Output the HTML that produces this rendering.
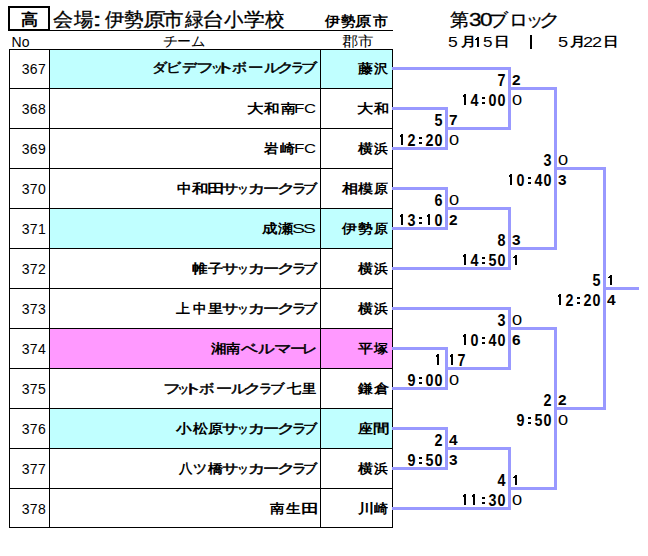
<!DOCTYPE html><html><head><meta charset="utf-8"><style>
*{margin:0;padding:0;box-sizing:border-box}
html,body{width:648px;height:556px;background:#fff;overflow:hidden}
body{position:relative;font-family:"Liberation Sans",sans-serif;color:#000}
.a{position:absolute;white-space:nowrap;line-height:20px}
.g{position:absolute;white-space:nowrap;line-height:20px;transform-origin:0 0}
.k{position:absolute;background:#000}
.l{position:absolute;background:#9999FF}
.b{font-weight:bold}
.t{position:absolute;white-space:nowrap;font-size:14px;line-height:20px}
.n{position:absolute;white-space:nowrap;font-weight:bold;font-size:15.9px;line-height:16px}
.r{position:absolute;white-space:nowrap;font-size:14px;line-height:20px;transform:scaleX(1.3);transform-origin:0 0}
.rb{font-weight:bold;transform:scaleX(1.1)}
.n i{font-style:normal;display:inline-block;width:9px;height:16px;vertical-align:top;text-align:center;transform:scaleX(0.9)}
.n i.o,.n i.c{position:relative;transform:none}
.n i.c:before,.n i.c:after{content:'';position:absolute;left:3px;top:4px;width:3px;height:2px;background:#000}
.n i.c:after{top:9px}
.n i.o:before{content:'';position:absolute;left:3px;top:1px;width:2px;height:11px;background:#000}
.n i.o:after{content:'';position:absolute;left:2px;top:2px;width:1px;height:2px;background:#000}
</style></head><body>

<div class="a" style="left:50px;top:50px;width:342px;height:38px;background:#C0FFFF"></div>
<div class="a" style="left:50px;top:209px;width:342px;height:39px;background:#C0FFFF"></div>
<div class="a" style="left:50px;top:329px;width:342px;height:39px;background:#FF99FF"></div>
<div class="a" style="left:50px;top:409px;width:342px;height:39px;background:#C0FFFF"></div>
<div class="k" style="left:9px;top:49px;width:384px;height:1px"></div>
<div class="k" style="left:9px;top:88px;width:384px;height:1px"></div>
<div class="k" style="left:9px;top:128px;width:384px;height:1px"></div>
<div class="k" style="left:9px;top:168px;width:384px;height:1px"></div>
<div class="k" style="left:9px;top:208px;width:384px;height:1px"></div>
<div class="k" style="left:9px;top:248px;width:384px;height:1px"></div>
<div class="k" style="left:9px;top:288px;width:384px;height:1px"></div>
<div class="k" style="left:9px;top:328px;width:384px;height:1px"></div>
<div class="k" style="left:9px;top:368px;width:384px;height:1px"></div>
<div class="k" style="left:9px;top:408px;width:384px;height:1px"></div>
<div class="k" style="left:9px;top:448px;width:384px;height:1px"></div>
<div class="k" style="left:9px;top:488px;width:384px;height:1px"></div>
<div class="k" style="left:9px;top:527px;width:384px;height:1px"></div>
<div class="k" style="left:9px;top:49px;width:1px;height:479px"></div>
<div class="k" style="left:49px;top:49px;width:1px;height:479px"></div>
<div class="k" style="left:320px;top:49px;width:1px;height:479px"></div>
<div class="k" style="left:392px;top:49px;width:1px;height:479px"></div>
<div class="a" style="left:8px;top:6px;width:42px;height:25px;border:2px solid #000"></div>
<div class="k" style="left:50px;top:30px;width:343px;height:1px"></div>
<div class="g" style="left:21.00px;top:10.00px;font-size:16px;font-weight:bold;transform:scale(1.067,1.000)">高</div>
<div class="g" style="left:52.95px;top:10.00px;font-size:18.5px;-webkit-text-stroke:0.3px #000;transform:scale(1.053,1.000)">会</div>
<div class="g" style="left:74.25px;top:10.00px;font-size:18.5px;-webkit-text-stroke:0.3px #000;transform:scale(1.028,1.000)">場</div>
<div class="g" style="left:92.00px;top:10.00px;font-size:18.5px;-webkit-text-stroke:0.3px #000;transform:scale(2.000,1.000)">:</div>
<div class="g" style="left:105.40px;top:10.00px;font-size:18.5px;-webkit-text-stroke:0.3px #000;transform:scale(1.017,1.000)">伊</div>
<div class="g" style="left:124.16px;top:10.00px;font-size:18.5px;-webkit-text-stroke:0.3px #000;transform:scale(1.041,1.000)">勢</div>
<div class="g" style="left:143.11px;top:10.00px;font-size:18.5px;-webkit-text-stroke:0.3px #000;transform:scale(1.188,1.000)">原</div>
<div class="g" style="left:163.12px;top:10.00px;font-size:18.5px;-webkit-text-stroke:0.3px #000;transform:scale(1.076,1.000)">市</div>
<div class="g" style="left:185.00px;top:10.00px;font-size:18.5px;-webkit-text-stroke:0.3px #000;transform:scale(0.983,1.000)">緑</div>
<div class="g" style="left:202.04px;top:10.00px;font-size:18.5px;-webkit-text-stroke:0.3px #000;transform:scale(1.180,1.000)">台</div>
<div class="g" style="left:223.58px;top:10.00px;font-size:18.5px;-webkit-text-stroke:0.3px #000;transform:scale(1.022,1.000)">小</div>
<div class="g" style="left:244.21px;top:10.00px;font-size:18.5px;-webkit-text-stroke:0.3px #000;transform:scale(1.094,1.000)">学</div>
<div class="g" style="left:265.00px;top:10.00px;font-size:18.5px;-webkit-text-stroke:0.3px #000;transform:scale(1.028,1.000)">校</div>
<div class="g" style="left:325.10px;top:12.00px;font-size:13.5px;font-weight:bold;transform:scale(1.086,1.000)">伊</div>
<div class="g" style="left:340.90px;top:12.00px;font-size:13.5px;font-weight:bold;transform:scale(1.043,1.000)">勢</div>
<div class="g" style="left:355.43px;top:12.00px;font-size:13.5px;font-weight:bold;transform:scale(1.169,1.000)">原</div>
<div class="g" style="left:372.90px;top:12.00px;font-size:13.5px;font-weight:bold;transform:scale(1.064,1.000)">市</div>
<div class="g" style="left:162.72px;top:32.00px;font-size:13.5px;transform:scale(1.082,1.000)">チ</div>
<div class="g" style="left:177.11px;top:32.00px;font-size:13.5px;transform:scale(0.992,1.000)">ー</div>
<div class="g" style="left:190.97px;top:32.00px;font-size:13.5px;transform:scale(1.025,1.000)">ム</div>
<div class="g" style="left:341.63px;top:32.00px;font-size:13.5px;transform:scale(1.167,1.000)">郡</div>
<div class="g" style="left:357.59px;top:32.00px;font-size:13.5px;transform:scale(1.108,1.000)">市</div>
<div class="g" style="left:450.25px;top:10.00px;font-size:18px;-webkit-text-stroke:0.3px #000;transform:scale(1.050,1.000)">第</div>
<div class="g" style="left:468.75px;top:10.00px;font-size:18px;-webkit-text-stroke:0.3px #000;transform:scale(1.250,1.000)">3</div>
<div class="g" style="left:479.75px;top:10.00px;font-size:18px;-webkit-text-stroke:0.3px #000;transform:scale(1.250,1.000)">0</div>
<div class="g" style="left:488.80px;top:10.00px;font-size:18px;-webkit-text-stroke:0.3px #000;transform:scale(1.050,1.000)">ブ</div>
<div class="g" style="left:508.88px;top:10.00px;font-size:18px;-webkit-text-stroke:0.3px #000;transform:scale(1.042,1.000)">ロ</div>
<div class="g" style="left:525.80px;top:10.00px;font-size:18px;-webkit-text-stroke:0.3px #000;transform:scale(0.967,1.000)">ッ</div>
<div class="g" style="left:539.25px;top:10.00px;font-size:18px;-webkit-text-stroke:0.3px #000;transform:scale(1.183,1.000)">ク</div>
<div class="g" style="left:448.35px;top:31.44px;font-size:13px;transform:scale(1.350,1.111)">5</div>
<div class="g" style="left:461.00px;top:32.00px;font-size:13px;font-weight:bold;transform:scale(1.170,1.000)">月</div>
<div class="g" style="left:482.68px;top:31.44px;font-size:13px;transform:scale(1.317,1.111)">5</div>
<div class="g" style="left:493.50px;top:32.00px;font-size:13px;font-weight:bold;transform:scale(1.200,1.000)">日</div>
<div class="g" style="left:557.50px;top:31.44px;font-size:13px;transform:scale(1.400,1.111)">5</div>
<div class="g" style="left:570.30px;top:32.00px;font-size:13px;font-weight:bold;transform:scale(1.190,1.000)">月</div>
<div class="g" style="left:582.70px;top:31.44px;font-size:13px;transform:scale(1.400,1.111)">2</div>
<div class="g" style="left:591.60px;top:31.44px;font-size:13px;transform:scale(1.400,1.111)">2</div>
<div class="g" style="left:602.50px;top:32.00px;font-size:13px;font-weight:bold;transform:scale(1.200,1.000)">日</div>
<div class="g" style="left:151.69px;top:58.00px;font-size:13px;-webkit-text-stroke:0.5px #000;transform:scale(1.155,1.000)">ダ</div>
<div class="g" style="left:166.29px;top:58.00px;font-size:13px;-webkit-text-stroke:0.5px #000;transform:scale(1.155,1.000)">ビ</div>
<div class="g" style="left:182.07px;top:58.00px;font-size:13px;-webkit-text-stroke:0.5px #000;transform:scale(1.133,1.000)">デ</div>
<div class="g" style="left:195.67px;top:58.00px;font-size:13px;-webkit-text-stroke:0.5px #000;transform:scale(1.367,1.000)">フ</div>
<div class="g" style="left:210.56px;top:58.00px;font-size:13px;-webkit-text-stroke:0.5px #000;transform:scale(0.922,1.000)">ッ</div>
<div class="g" style="left:214.00px;top:58.00px;font-size:13px;-webkit-text-stroke:0.5px #000;transform:scale(1.660,1.000)">ト</div>
<div class="g" style="left:231.85px;top:58.00px;font-size:13px;-webkit-text-stroke:0.5px #000;transform:scale(1.145,1.000)">ボ</div>
<div class="g" style="left:248.02px;top:58.00px;font-size:13px;-webkit-text-stroke:0.5px #000;transform:scale(1.182,1.000)">ー</div>
<div class="g" style="left:263.59px;top:58.00px;font-size:13px;-webkit-text-stroke:0.5px #000;transform:scale(1.209,1.000)">ル</div>
<div class="g" style="left:276.52px;top:58.00px;font-size:13px;-webkit-text-stroke:0.5px #000;transform:scale(1.289,1.000)">ク</div>
<div class="g" style="left:291.37px;top:58.00px;font-size:13px;-webkit-text-stroke:0.5px #000;transform:scale(1.030,1.000)">ラ</div>
<div class="g" style="left:301.06px;top:58.00px;font-size:13px;-webkit-text-stroke:0.5px #000;transform:scale(1.236,1.000)">ブ</div>
<div class="g" style="left:358.00px;top:59.00px;font-size:13px;font-weight:bold;transform:scale(1.154,1.000)">藤</div>
<div class="g" style="left:374.00px;top:59.00px;font-size:13px;font-weight:bold;transform:scale(1.077,1.000)">沢</div>
<div class="g" style="left:246.72px;top:99.00px;font-size:13px;font-weight:bold;transform:scale(1.275,1.000)">大</div>
<div class="g" style="left:264.30px;top:99.00px;font-size:13px;font-weight:bold;transform:scale(1.200,1.000)">和</div>
<div class="g" style="left:280.50px;top:99.00px;font-size:13px;font-weight:bold;transform:scale(1.131,1.000)">南</div>
<div class="g" style="left:293.89px;top:99.00px;font-size:13px;transform:scale(1.314,1.000)">F</div>
<div class="g" style="left:304.41px;top:99.00px;font-size:13px;transform:scale(1.288,1.000)">C</div>
<div class="g" style="left:356.75px;top:99.00px;font-size:13px;font-weight:bold;transform:scale(1.250,1.000)">大</div>
<div class="g" style="left:374.00px;top:99.00px;font-size:13px;font-weight:bold;transform:scale(1.167,1.000)">和</div>
<div class="g" style="left:264.30px;top:139.00px;font-size:13px;font-weight:bold;transform:scale(1.108,1.000)">岩</div>
<div class="g" style="left:280.30px;top:139.00px;font-size:13px;font-weight:bold;transform:scale(1.146,1.000)">崎</div>
<div class="g" style="left:293.89px;top:139.00px;font-size:13px;transform:scale(1.314,1.000)">F</div>
<div class="g" style="left:304.41px;top:139.00px;font-size:13px;transform:scale(1.288,1.000)">C</div>
<div class="g" style="left:358.00px;top:139.00px;font-size:13px;font-weight:bold;transform:scale(1.154,1.000)">横</div>
<div class="g" style="left:374.00px;top:139.00px;font-size:13px;font-weight:bold;transform:scale(1.077,1.000)">浜</div>
<div class="g" style="left:177.00px;top:179.00px;font-size:13px;font-weight:bold;transform:scale(1.108,1.000)">中</div>
<div class="g" style="left:191.60px;top:179.00px;font-size:13px;font-weight:bold;transform:scale(1.267,1.000)">和</div>
<div class="g" style="left:206.70px;top:179.00px;font-size:13px;font-weight:bold;transform:scale(1.400,1.000)">田</div>
<div class="g" style="left:222.24px;top:179.00px;font-size:13px;-webkit-text-stroke:0.5px #000;transform:scale(1.264,1.000)">サ</div>
<div class="g" style="left:237.40px;top:179.00px;font-size:13px;-webkit-text-stroke:0.5px #000;transform:scale(0.900,1.000)">ッ</div>
<div class="g" style="left:247.79px;top:179.00px;font-size:13px;-webkit-text-stroke:0.5px #000;transform:scale(1.310,1.000)">カ</div>
<div class="g" style="left:262.56px;top:179.00px;font-size:13px;-webkit-text-stroke:0.5px #000;transform:scale(1.236,1.000)">ー</div>
<div class="g" style="left:276.72px;top:179.00px;font-size:13px;-webkit-text-stroke:0.5px #000;transform:scale(1.389,1.000)">ク</div>
<div class="g" style="left:292.16px;top:179.00px;font-size:13px;-webkit-text-stroke:0.5px #000;transform:scale(1.140,1.000)">ラ</div>
<div class="g" style="left:302.91px;top:179.00px;font-size:13px;-webkit-text-stroke:0.5px #000;transform:scale(1.091,1.000)">ブ</div>
<div class="g" style="left:342.00px;top:179.00px;font-size:13px;font-weight:bold;transform:scale(1.250,1.000)">相</div>
<div class="g" style="left:358.00px;top:179.00px;font-size:13px;font-weight:bold;transform:scale(1.154,1.000)">模</div>
<div class="g" style="left:374.00px;top:179.00px;font-size:13px;font-weight:bold;transform:scale(1.077,1.000)">原</div>
<div class="g" style="left:262.00px;top:219.00px;font-size:13px;font-weight:bold;transform:scale(1.192,1.000)">成</div>
<div class="g" style="left:277.70px;top:219.00px;font-size:13px;font-weight:bold;transform:scale(1.177,1.000)">瀬</div>
<div class="g" style="left:291.80px;top:219.00px;font-size:13px;transform:scale(1.500,1.000)">S</div>
<div class="g" style="left:303.01px;top:219.00px;font-size:13px;transform:scale(1.486,1.000)">S</div>
<div class="g" style="left:342.00px;top:219.00px;font-size:13px;font-weight:bold;transform:scale(1.154,1.000)">伊</div>
<div class="g" style="left:358.00px;top:219.00px;font-size:13px;font-weight:bold;transform:scale(1.154,1.000)">勢</div>
<div class="g" style="left:374.00px;top:219.00px;font-size:13px;font-weight:bold;transform:scale(1.077,1.000)">原</div>
<div class="g" style="left:192.00px;top:259.00px;font-size:13px;font-weight:bold;transform:scale(1.192,1.000)">帷</div>
<div class="g" style="left:208.10px;top:259.00px;font-size:13px;font-weight:bold;transform:scale(1.162,1.000)">子</div>
<div class="g" style="left:222.24px;top:259.00px;font-size:13px;-webkit-text-stroke:0.5px #000;transform:scale(1.264,1.000)">サ</div>
<div class="g" style="left:237.40px;top:259.00px;font-size:13px;-webkit-text-stroke:0.5px #000;transform:scale(0.900,1.000)">ッ</div>
<div class="g" style="left:247.79px;top:259.00px;font-size:13px;-webkit-text-stroke:0.5px #000;transform:scale(1.310,1.000)">カ</div>
<div class="g" style="left:262.56px;top:259.00px;font-size:13px;-webkit-text-stroke:0.5px #000;transform:scale(1.236,1.000)">ー</div>
<div class="g" style="left:276.72px;top:259.00px;font-size:13px;-webkit-text-stroke:0.5px #000;transform:scale(1.389,1.000)">ク</div>
<div class="g" style="left:292.16px;top:259.00px;font-size:13px;-webkit-text-stroke:0.5px #000;transform:scale(1.140,1.000)">ラ</div>
<div class="g" style="left:302.91px;top:259.00px;font-size:13px;-webkit-text-stroke:0.5px #000;transform:scale(1.091,1.000)">ブ</div>
<div class="g" style="left:358.00px;top:259.00px;font-size:13px;font-weight:bold;transform:scale(1.154,1.000)">横</div>
<div class="g" style="left:374.00px;top:259.00px;font-size:13px;font-weight:bold;transform:scale(1.077,1.000)">浜</div>
<div class="g" style="left:176.30px;top:299.00px;font-size:13px;font-weight:bold;transform:scale(1.077,1.000)">上</div>
<div class="g" style="left:193.00px;top:299.00px;font-size:13px;font-weight:bold;transform:scale(1.033,1.000)">中</div>
<div class="g" style="left:208.10px;top:299.00px;font-size:13px;font-weight:bold;transform:scale(1.162,1.000)">里</div>
<div class="g" style="left:222.24px;top:299.00px;font-size:13px;-webkit-text-stroke:0.5px #000;transform:scale(1.264,1.000)">サ</div>
<div class="g" style="left:237.40px;top:299.00px;font-size:13px;-webkit-text-stroke:0.5px #000;transform:scale(0.900,1.000)">ッ</div>
<div class="g" style="left:247.79px;top:299.00px;font-size:13px;-webkit-text-stroke:0.5px #000;transform:scale(1.310,1.000)">カ</div>
<div class="g" style="left:262.56px;top:299.00px;font-size:13px;-webkit-text-stroke:0.5px #000;transform:scale(1.236,1.000)">ー</div>
<div class="g" style="left:276.72px;top:299.00px;font-size:13px;-webkit-text-stroke:0.5px #000;transform:scale(1.389,1.000)">ク</div>
<div class="g" style="left:292.16px;top:299.00px;font-size:13px;-webkit-text-stroke:0.5px #000;transform:scale(1.140,1.000)">ラ</div>
<div class="g" style="left:302.91px;top:299.00px;font-size:13px;-webkit-text-stroke:0.5px #000;transform:scale(1.091,1.000)">ブ</div>
<div class="g" style="left:358.00px;top:299.00px;font-size:13px;font-weight:bold;transform:scale(1.154,1.000)">横</div>
<div class="g" style="left:374.00px;top:299.00px;font-size:13px;font-weight:bold;transform:scale(1.077,1.000)">浜</div>
<div class="g" style="left:210.80px;top:339.00px;font-size:13px;font-weight:bold;transform:scale(1.192,1.000)">湘</div>
<div class="g" style="left:226.40px;top:339.00px;font-size:13px;font-weight:bold;transform:scale(1.100,1.000)">南</div>
<div class="g" style="left:241.40px;top:339.00px;font-size:13px;-webkit-text-stroke:0.5px #000;transform:scale(1.308,1.000)">ベ</div>
<div class="g" style="left:258.34px;top:339.00px;font-size:13px;-webkit-text-stroke:0.5px #000;transform:scale(1.264,1.000)">ル</div>
<div class="g" style="left:273.75px;top:339.00px;font-size:13px;-webkit-text-stroke:0.5px #000;transform:scale(1.355,1.000)">マ</div>
<div class="g" style="left:290.42px;top:339.00px;font-size:13px;-webkit-text-stroke:0.5px #000;transform:scale(1.182,1.000)">ー</div>
<div class="g" style="left:302.17px;top:339.00px;font-size:13px;-webkit-text-stroke:0.5px #000;transform:scale(1.167,1.000)">レ</div>
<div class="g" style="left:358.00px;top:339.00px;font-size:13px;font-weight:bold;transform:scale(1.154,1.000)">平</div>
<div class="g" style="left:374.00px;top:339.00px;font-size:13px;font-weight:bold;transform:scale(1.077,1.000)">塚</div>
<div class="g" style="left:162.94px;top:379.00px;font-size:13px;-webkit-text-stroke:0.5px #000;transform:scale(1.378,1.000)">フ</div>
<div class="g" style="left:177.09px;top:379.00px;font-size:13px;-webkit-text-stroke:0.5px #000;transform:scale(0.956,1.000)">ッ</div>
<div class="g" style="left:181.70px;top:379.00px;font-size:13px;-webkit-text-stroke:0.5px #000;transform:scale(1.600,1.000)">ト</div>
<div class="g" style="left:199.32px;top:379.00px;font-size:13px;-webkit-text-stroke:0.5px #000;transform:scale(1.182,1.000)">ボ</div>
<div class="g" style="left:215.76px;top:379.00px;font-size:13px;-webkit-text-stroke:0.5px #000;transform:scale(1.236,1.000)">ー</div>
<div class="g" style="left:230.99px;top:379.00px;font-size:13px;-webkit-text-stroke:0.5px #000;transform:scale(1.209,1.000)">ル</div>
<div class="g" style="left:244.10px;top:379.00px;font-size:13px;-webkit-text-stroke:0.5px #000;transform:scale(1.300,1.000)">ク</div>
<div class="g" style="left:258.96px;top:379.00px;font-size:13px;-webkit-text-stroke:0.5px #000;transform:scale(1.040,1.000)">ラ</div>
<div class="g" style="left:269.58px;top:379.00px;font-size:13px;-webkit-text-stroke:0.5px #000;transform:scale(1.118,1.000)">ブ</div>
<div class="g" style="left:286.50px;top:379.00px;font-size:13px;font-weight:bold;transform:scale(1.100,1.000)">七</div>
<div class="g" style="left:301.70px;top:379.00px;font-size:13px;font-weight:bold;transform:scale(1.100,1.000)">里</div>
<div class="g" style="left:358.00px;top:379.00px;font-size:13px;font-weight:bold;transform:scale(1.154,1.000)">鎌</div>
<div class="g" style="left:374.00px;top:379.00px;font-size:13px;font-weight:bold;transform:scale(1.167,1.000)">倉</div>
<div class="g" style="left:176.30px;top:419.00px;font-size:13px;font-weight:bold;transform:scale(1.200,1.000)">小</div>
<div class="g" style="left:192.50px;top:419.00px;font-size:13px;font-weight:bold;transform:scale(1.154,1.000)">松</div>
<div class="g" style="left:208.10px;top:419.00px;font-size:13px;font-weight:bold;transform:scale(1.162,1.000)">原</div>
<div class="g" style="left:222.24px;top:419.00px;font-size:13px;-webkit-text-stroke:0.5px #000;transform:scale(1.264,1.000)">サ</div>
<div class="g" style="left:237.40px;top:419.00px;font-size:13px;-webkit-text-stroke:0.5px #000;transform:scale(0.900,1.000)">ッ</div>
<div class="g" style="left:247.79px;top:419.00px;font-size:13px;-webkit-text-stroke:0.5px #000;transform:scale(1.310,1.000)">カ</div>
<div class="g" style="left:262.56px;top:419.00px;font-size:13px;-webkit-text-stroke:0.5px #000;transform:scale(1.236,1.000)">ー</div>
<div class="g" style="left:276.72px;top:419.00px;font-size:13px;-webkit-text-stroke:0.5px #000;transform:scale(1.389,1.000)">ク</div>
<div class="g" style="left:292.16px;top:419.00px;font-size:13px;-webkit-text-stroke:0.5px #000;transform:scale(1.140,1.000)">ラ</div>
<div class="g" style="left:302.91px;top:419.00px;font-size:13px;-webkit-text-stroke:0.5px #000;transform:scale(1.091,1.000)">ブ</div>
<div class="g" style="left:358.00px;top:419.00px;font-size:13px;font-weight:bold;transform:scale(1.154,1.000)">座</div>
<div class="g" style="left:372.73px;top:419.00px;font-size:13px;font-weight:bold;transform:scale(1.273,1.000)">間</div>
<div class="g" style="left:178.50px;top:459.00px;font-size:13px;font-weight:bold;transform:scale(1.031,1.000)">八</div>
<div class="g" style="left:192.53px;top:459.00px;font-size:13px;-webkit-text-stroke:0.5px #000;transform:scale(1.073,1.000)">ツ</div>
<div class="g" style="left:208.10px;top:459.00px;font-size:13px;font-weight:bold;transform:scale(1.162,1.000)">橋</div>
<div class="g" style="left:222.24px;top:459.00px;font-size:13px;-webkit-text-stroke:0.5px #000;transform:scale(1.264,1.000)">サ</div>
<div class="g" style="left:237.40px;top:459.00px;font-size:13px;-webkit-text-stroke:0.5px #000;transform:scale(0.900,1.000)">ッ</div>
<div class="g" style="left:247.79px;top:459.00px;font-size:13px;-webkit-text-stroke:0.5px #000;transform:scale(1.310,1.000)">カ</div>
<div class="g" style="left:262.56px;top:459.00px;font-size:13px;-webkit-text-stroke:0.5px #000;transform:scale(1.236,1.000)">ー</div>
<div class="g" style="left:276.72px;top:459.00px;font-size:13px;-webkit-text-stroke:0.5px #000;transform:scale(1.389,1.000)">ク</div>
<div class="g" style="left:292.16px;top:459.00px;font-size:13px;-webkit-text-stroke:0.5px #000;transform:scale(1.140,1.000)">ラ</div>
<div class="g" style="left:302.91px;top:459.00px;font-size:13px;-webkit-text-stroke:0.5px #000;transform:scale(1.091,1.000)">ブ</div>
<div class="g" style="left:358.00px;top:459.00px;font-size:13px;font-weight:bold;transform:scale(1.154,1.000)">横</div>
<div class="g" style="left:374.00px;top:459.00px;font-size:13px;font-weight:bold;transform:scale(1.077,1.000)">浜</div>
<div class="g" style="left:270.00px;top:499.00px;font-size:13px;font-weight:bold;transform:scale(1.108,1.000)">南</div>
<div class="g" style="left:286.00px;top:499.00px;font-size:13px;font-weight:bold;transform:scale(1.123,1.000)">生</div>
<div class="g" style="left:300.60px;top:499.00px;font-size:13px;font-weight:bold;transform:scale(1.400,1.000)">田</div>
<div class="g" style="left:358.00px;top:499.00px;font-size:13px;font-weight:bold;transform:scale(1.250,1.000)">川</div>
<div class="g" style="left:374.00px;top:499.00px;font-size:13px;font-weight:bold;transform:scale(1.077,1.000)">崎</div>
<div class="k" style="left:477px;top:37px;width:2px;height:10px"></div><div class="k" style="left:475px;top:39px;width:2px;height:1px"></div><div class="k" style="left:476px;top:38px;width:1px;height:1px"></div>
<div class="k" style="left:530px;top:35px;width:2px;height:14px"></div>
<div class="t" style="left:11.6px;top:32px">No</div>
<div class="t" style="right:601.95px;top:59px;letter-spacing:0.35px">367</div>
<div class="t" style="right:601.95px;top:99px;letter-spacing:0.35px">368</div>
<div class="t" style="right:601.95px;top:139px;letter-spacing:0.35px">369</div>
<div class="t" style="right:601.95px;top:179px;letter-spacing:0.35px">370</div>
<div class="t" style="right:601.95px;top:219px;letter-spacing:0.35px">371</div>
<div class="t" style="right:601.95px;top:259px;letter-spacing:0.35px">372</div>
<div class="t" style="right:601.95px;top:299px;letter-spacing:0.35px">373</div>
<div class="t" style="right:601.95px;top:339px;letter-spacing:0.35px">374</div>
<div class="t" style="right:601.95px;top:379px;letter-spacing:0.35px">375</div>
<div class="t" style="right:601.95px;top:419px;letter-spacing:0.35px">376</div>
<div class="t" style="right:601.95px;top:459px;letter-spacing:0.35px">377</div>
<div class="t" style="right:601.95px;top:499px;letter-spacing:0.35px">378</div>
<div class="l" style="left:392px;top:67px;width:118px;height:3px"></div>
<div class="l" style="left:392px;top:107px;width:55px;height:3px"></div>
<div class="l" style="left:392px;top:147px;width:55px;height:3px"></div>
<div class="l" style="left:447px;top:127px;width:63px;height:3px"></div>
<div class="l" style="left:510px;top:87px;width:46px;height:3px"></div>
<div class="l" style="left:392px;top:187px;width:55px;height:3px"></div>
<div class="l" style="left:392px;top:227px;width:55px;height:3px"></div>
<div class="l" style="left:447px;top:207px;width:63px;height:3px"></div>
<div class="l" style="left:392px;top:267px;width:118px;height:3px"></div>
<div class="l" style="left:510px;top:247px;width:46px;height:3px"></div>
<div class="l" style="left:556px;top:167px;width:49px;height:3px"></div>
<div class="l" style="left:392px;top:307px;width:118px;height:3px"></div>
<div class="l" style="left:392px;top:347px;width:55px;height:3px"></div>
<div class="l" style="left:392px;top:387px;width:55px;height:3px"></div>
<div class="l" style="left:447px;top:367px;width:63px;height:3px"></div>
<div class="l" style="left:510px;top:327px;width:46px;height:3px"></div>
<div class="l" style="left:392px;top:427px;width:55px;height:3px"></div>
<div class="l" style="left:392px;top:467px;width:55px;height:3px"></div>
<div class="l" style="left:447px;top:447px;width:63px;height:3px"></div>
<div class="l" style="left:392px;top:507px;width:118px;height:3px"></div>
<div class="l" style="left:510px;top:487px;width:46px;height:3px"></div>
<div class="l" style="left:556px;top:407px;width:49px;height:3px"></div>
<div class="l" style="left:605px;top:287px;width:34px;height:3px"></div>
<div class="l" style="left:445px;top:107px;width:3px;height:43px"></div>
<div class="l" style="left:445px;top:187px;width:3px;height:43px"></div>
<div class="l" style="left:445px;top:347px;width:3px;height:43px"></div>
<div class="l" style="left:445px;top:427px;width:3px;height:43px"></div>
<div class="l" style="left:508px;top:67px;width:3px;height:63px"></div>
<div class="l" style="left:508px;top:207px;width:3px;height:63px"></div>
<div class="l" style="left:508px;top:307px;width:3px;height:63px"></div>
<div class="l" style="left:508px;top:447px;width:3px;height:63px"></div>
<div class="l" style="left:554px;top:87px;width:3px;height:163px"></div>
<div class="l" style="left:554px;top:327px;width:3px;height:163px"></div>
<div class="l" style="left:603px;top:167px;width:3px;height:243px"></div>
<div class="n" style="left:434px;top:113px"><i>5</i></div>
<div class="r rb" style="left:449.00px;top:110.00px">7</div>
<div class="n" style="left:398px;top:133px"><i class="o"></i><i>2</i><i class="c"></i><i>2</i><i>0</i></div>
<div class="r" style="left:449.00px;top:130.00px">0</div>
<div class="n" style="left:497px;top:73px"><i>7</i></div>
<div class="r rb" style="left:512.00px;top:70.00px">2</div>
<div class="n" style="left:461px;top:93px"><i class="o"></i><i>4</i><i class="c"></i><i>0</i><i>0</i></div>
<div class="r" style="left:512.00px;top:90.00px">0</div>
<div class="n" style="left:434px;top:193px"><i>6</i></div>
<div class="r" style="left:449.00px;top:190.00px">0</div>
<div class="n" style="left:398px;top:213px"><i class="o"></i><i>3</i><i class="c"></i><i class="o"></i><i>0</i></div>
<div class="r rb" style="left:449.00px;top:210.00px">2</div>
<div class="n" style="left:497px;top:233px"><i>8</i></div>
<div class="r rb" style="left:512.00px;top:230.00px">3</div>
<div class="n" style="left:461px;top:253px"><i class="o"></i><i>4</i><i class="c"></i><i>5</i><i>0</i></div>
<div class="k" style="left:515px;top:255px;width:2px;height:10px"></div><div class="k" style="left:513px;top:257px;width:2px;height:1px"></div><div class="k" style="left:514px;top:256px;width:1px;height:1px"></div>
<div class="n" style="left:543px;top:153px"><i>3</i></div>
<div class="r" style="left:558.00px;top:150.00px">0</div>
<div class="n" style="left:507px;top:173px"><i class="o"></i><i>0</i><i class="c"></i><i>4</i><i>0</i></div>
<div class="r rb" style="left:558.00px;top:170.00px">3</div>
<div class="n" style="left:497px;top:313px"><i>3</i></div>
<div class="r" style="left:512.00px;top:310.00px">0</div>
<div class="n" style="left:461px;top:333px"><i class="o"></i><i>0</i><i class="c"></i><i>4</i><i>0</i></div>
<div class="r rb" style="left:512.00px;top:330.00px">6</div>
<div class="n" style="left:434px;top:353px"><i class="o"></i></div>
<div class="n" style="left:448px;top:353px"><i class="o"></i><i>7</i></div>
<div class="n" style="left:407px;top:373px"><i>9</i><i class="c"></i><i>0</i><i>0</i></div>
<div class="r" style="left:449.00px;top:370.00px">0</div>
<div class="n" style="left:543px;top:393px"><i>2</i></div>
<div class="r rb" style="left:558.00px;top:390.00px">2</div>
<div class="n" style="left:516px;top:413px"><i>9</i><i class="c"></i><i>5</i><i>0</i></div>
<div class="r" style="left:558.00px;top:410.00px">0</div>
<div class="n" style="left:434px;top:433px"><i>2</i></div>
<div class="r rb" style="left:449.00px;top:430.00px">4</div>
<div class="n" style="left:407px;top:453px"><i>9</i><i class="c"></i><i>5</i><i>0</i></div>
<div class="r rb" style="left:449.00px;top:450.00px">3</div>
<div class="n" style="left:497px;top:473px"><i>4</i></div>
<div class="k" style="left:515px;top:475px;width:2px;height:10px"></div><div class="k" style="left:513px;top:477px;width:2px;height:1px"></div><div class="k" style="left:514px;top:476px;width:1px;height:1px"></div>
<div class="n" style="left:461px;top:493px"><i class="o"></i><i class="o"></i><i class="c"></i><i>3</i><i>0</i></div>
<div class="r" style="left:512.00px;top:490.00px">0</div>
<div class="n" style="left:592px;top:273px"><i>5</i></div>
<div class="k" style="left:610px;top:275px;width:2px;height:10px"></div><div class="k" style="left:608px;top:277px;width:2px;height:1px"></div><div class="k" style="left:609px;top:276px;width:1px;height:1px"></div>
<div class="n" style="left:556px;top:293px"><i class="o"></i><i>2</i><i class="c"></i><i>2</i><i>0</i></div>
<div class="r rb" style="left:607.00px;top:290.00px">4</div>
</body></html>
